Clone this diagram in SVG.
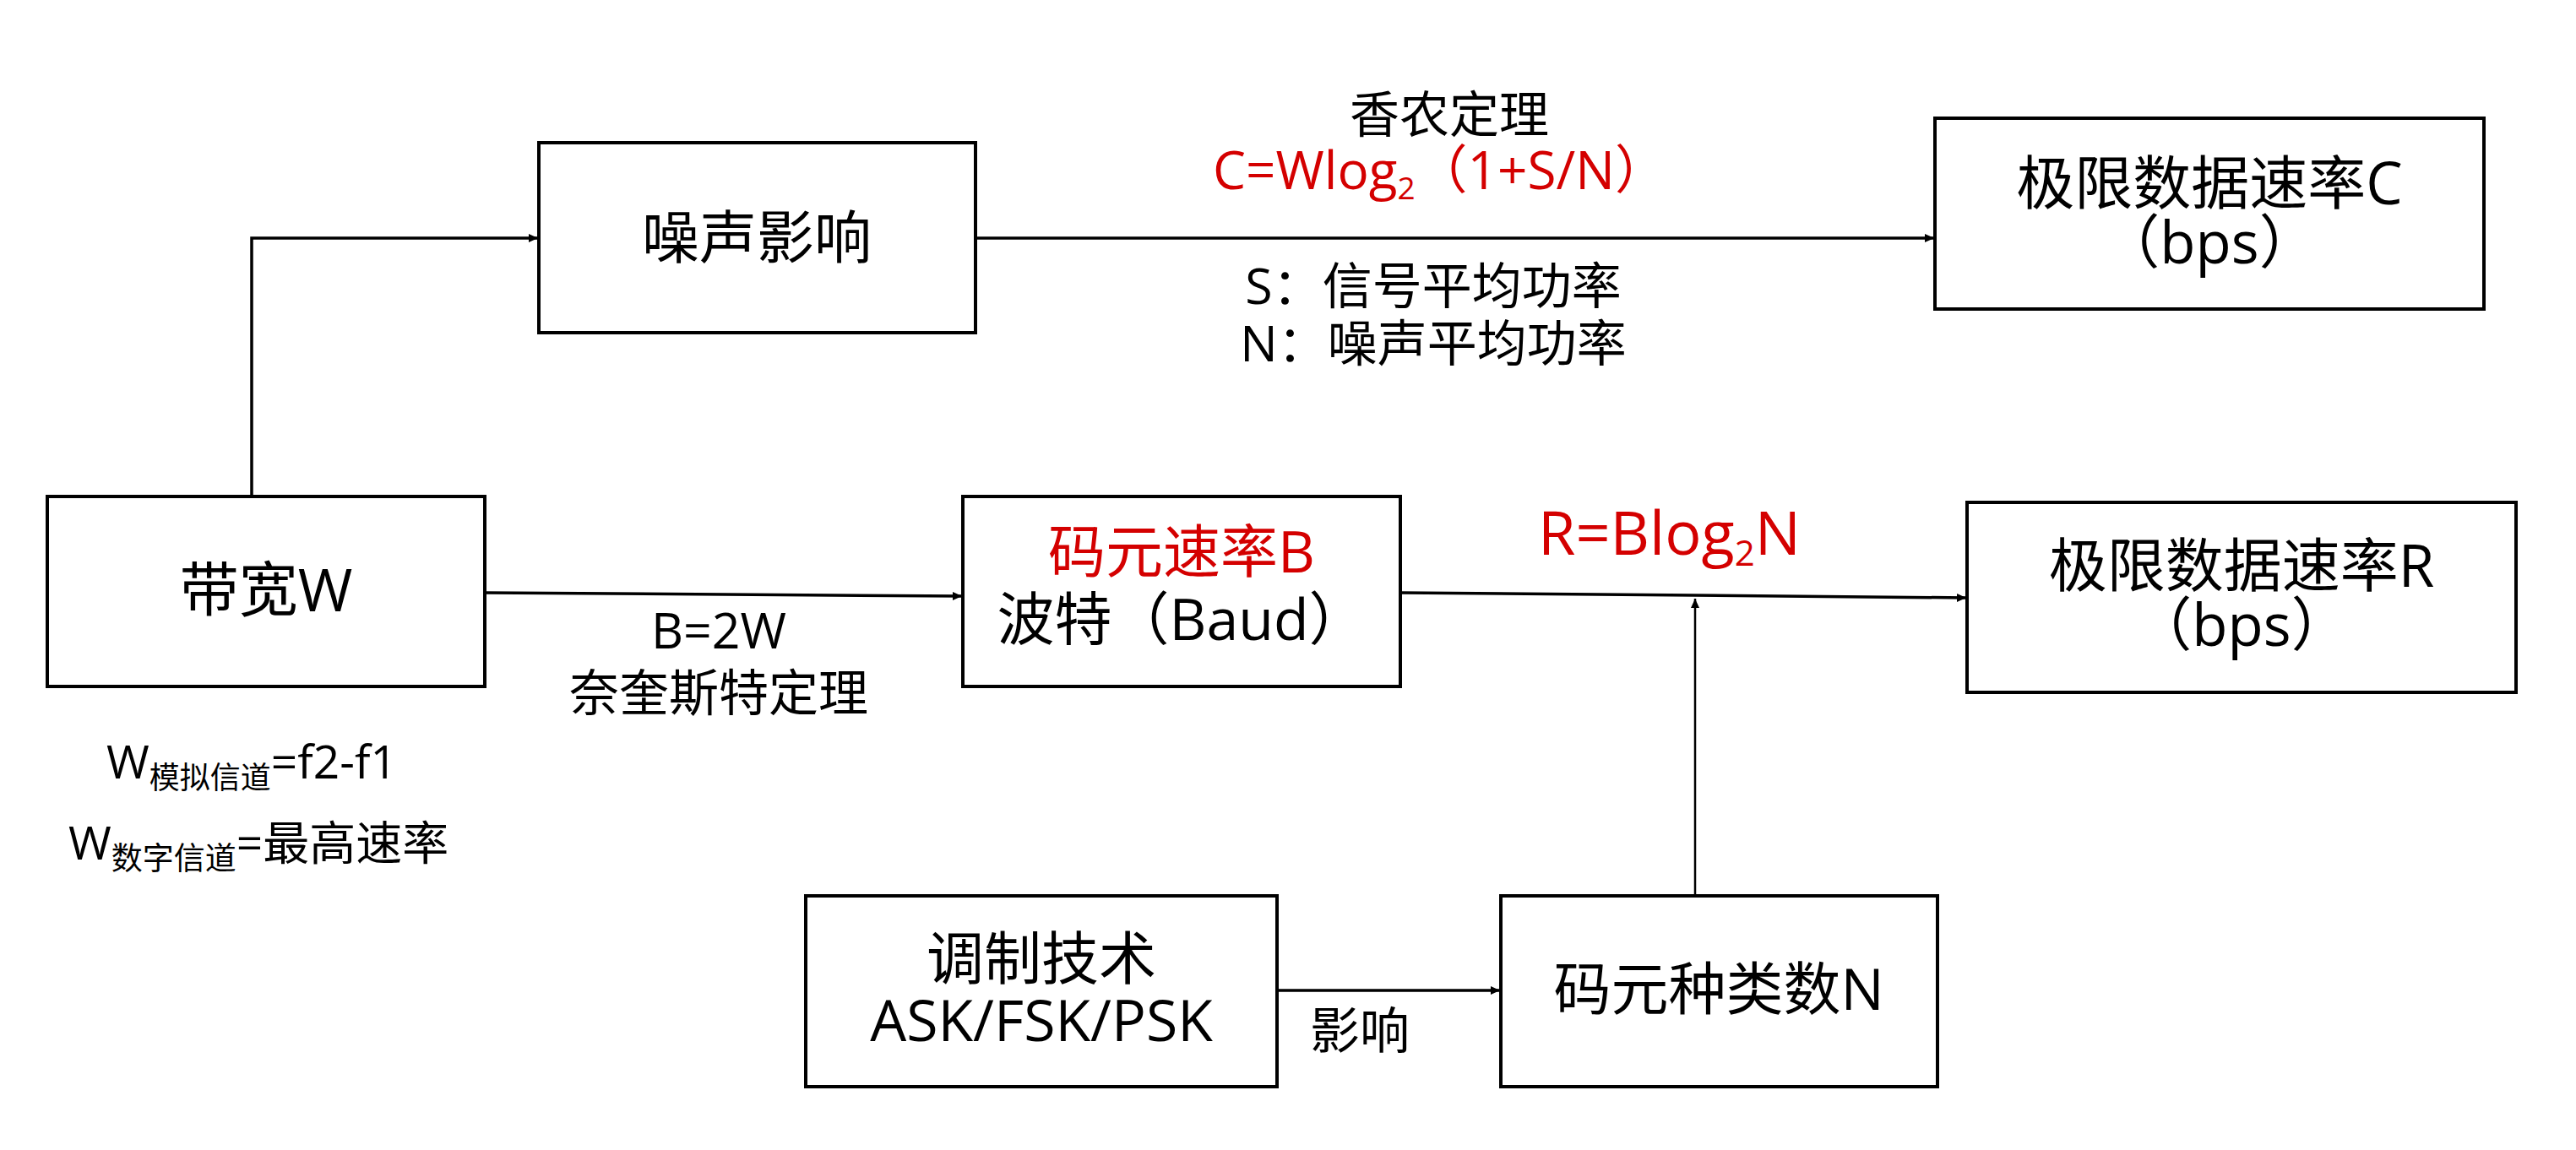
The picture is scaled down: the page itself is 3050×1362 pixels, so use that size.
<svg xmlns="http://www.w3.org/2000/svg" width="3050" height="1362" viewBox="0 0 3050 1362">
<style>
text{font-family:"Open Sans","Noto Sans CJK SC",sans-serif;fill:#000}
.node rect{fill:#fff;stroke:#000;stroke-width:4}
.nt{font-size:68px;text-anchor:middle}
.lb{font-size:59px;text-anchor:middle}
.red{fill:#d40000}
.conn{fill:none;stroke:#000;stroke-width:3.5}
.thin{stroke-width:2.5}
</style>
<defs>
<marker id="ah" markerUnits="userSpaceOnUse" markerWidth="12" markerHeight="12" refX="11" refY="6" orient="auto">
<path d="M0,1 L11,6 L0,11 z" fill="#000"/>
</marker>
</defs>
<rect width="3050" height="1362" fill="#fff"/>
<g id="connectors">
<path class="conn" d="M298,588 V282 H637" marker-end="url(#ah)"/>
<path class="conn" d="M1155,282 H2290" marker-end="url(#ah)"/>
<path class="conn" d="M574,702 L1139,706" marker-end="url(#ah)"/>
<path class="conn" d="M1658,702 L2328,708" marker-end="url(#ah)"/>
<path class="conn thin" d="M2007,1061 V709" marker-end="url(#ah)"/>
<path class="conn" d="M1512,1173 H1776" marker-end="url(#ah)"/>
</g>
<g id="noise" class="node">
<rect x="638" y="169" width="517" height="225"/>
<text class="nt" x="896" y="306">噪声影响</text>
</g>
<g id="limitC" class="node">
<rect x="2291" y="140" width="650" height="226"/>
<text class="nt" x="2616" y="242" style="font-size:69px">极限数据速率C</text>
<text class="nt" x="2616" y="312" style="font-size:69px">（bps）</text>
</g>
<g id="bandwidth" class="node">
<rect x="56" y="588" width="518" height="225"/>
<text class="nt" x="315" y="724" style="font-size:70px">带宽W</text>
</g>
<g id="baud" class="node">
<rect x="1140" y="588" width="518" height="225"/>
<text class="nt red" x="1399" y="678">码元速率B</text>
<text class="nt" x="1399" y="758">波特（Baud）</text>
</g>
<g id="limitR" class="node">
<rect x="2329" y="595" width="650" height="225"/>
<text class="nt" x="2654" y="695" style="font-size:69px">极限数据速率R</text>
<text class="nt" x="2654" y="765" style="font-size:69px">（bps）</text>
</g>
<g id="modulation" class="node">
<rect x="954" y="1061" width="558" height="226"/>
<text class="nt" x="1233" y="1160">调制技术</text>
<text class="nt" x="1233" y="1233">ASK/FSK/PSK</text>
</g>
<g id="symbols" class="node">
<rect x="1777" y="1061" width="517" height="226"/>
<text class="nt" x="2035" y="1196">码元种类数N</text>
</g>
<g id="labels">
<text class="lb" x="1716" y="157">香农定理</text>
<text class="lb red" x="1705" y="224" style="font-size:62px">C=Wlog<tspan font-size="37" dy="12">2</tspan><tspan dy="-12">（1+S/N）</tspan></text>
<text class="lb" x="1697" y="360">S：信号平均功率</text>
<text class="lb" x="1697" y="428">N：噪声平均功率</text>
<text class="red" x="1821" y="657" font-size="72">R=Blog<tspan font-size="42" dy="13">2</tspan><tspan dy="-13">N</tspan></text>
<text class="lb" x="851" y="768">B=2W</text>
<text class="lb" x="851" y="842">奈奎斯特定理</text>
<text class="lb" x="1610" y="1242">影响</text>
<text x="126" y="922" font-size="55">W<tspan font-size="36" dy="12">模拟信道</tspan><tspan dy="-12">=f2-f1</tspan></text>
<text x="81" y="1018" font-size="55">W<tspan font-size="37" dy="12">数字信道</tspan><tspan dy="-12">=最高速率</tspan></text>
</g>
</svg>
